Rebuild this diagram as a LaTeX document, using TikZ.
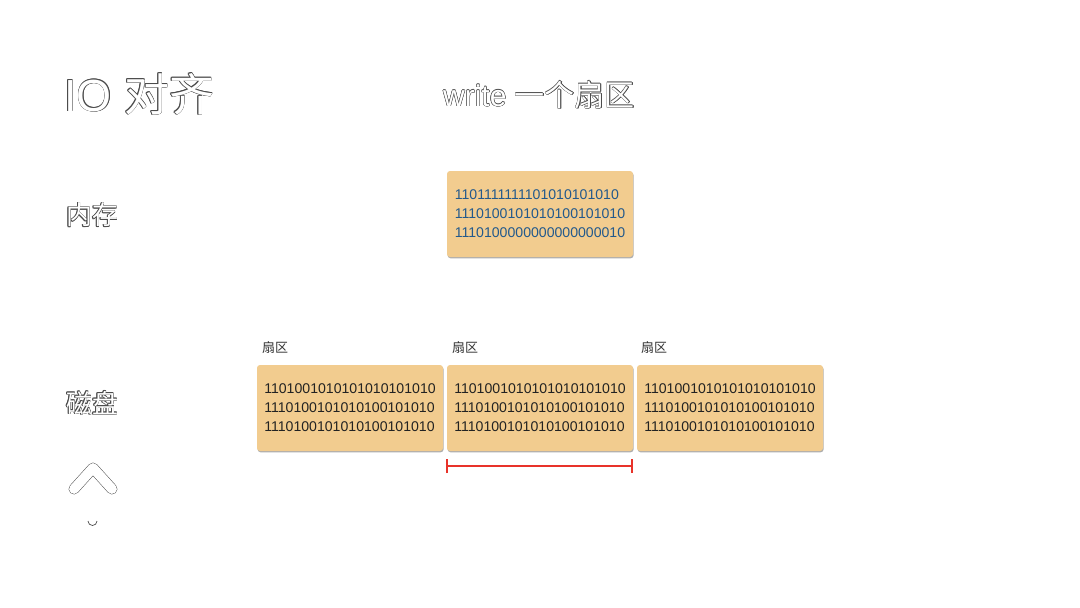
\documentclass[tikz,border=0pt]{standalone}
\usepackage{fontspec}
\setmainfont{Liberation Sans}
\newfontfamily\cjk{Noto Sans CJK SC}
\usetikzlibrary{shadows,arrows.meta}
\definecolor{boxfill}{HTML}{F2CC8F}
\definecolor{membits}{HTML}{22598C}
\definecolor{diskbits}{HTML}{222222}
\definecolor{bracketred}{HTML}{E8332A}
\newcommand\outlinetext[5]{% name, position, anchor, font, text
  \foreach \a in {0,45,...,315}{
    \node[anchor=#3, inner sep=0, text=black!70, font=#4, shift={(\a:0.45)}] at (#2) {#5};
  }
  \node[anchor=#3, inner sep=0, text=white, font=#4] (#1) at (#2) {#5};
}
\tikzset{
  bitbox/.style={draw=none, fill=boxfill, rounded corners=3pt, minimum width=186pt,
    minimum height=86pt, inner sep=0, align=left,
    font=\fontsize{14.1}{19}\selectfont,
    drop shadow={shadow xshift=0.6pt, shadow yshift=-1.3pt, fill=black!45, opacity=0.7}},
  membox/.style={bitbox, text=membits},
  diskbox/.style={bitbox, text=diskbits},
  sectorlabel/.style={anchor=west, inner sep=0, text=black!80, font=\cjk\fontsize{13}{13}\selectfont},
  bracket/.style={draw=bracketred, line width=1.8pt, {Bar[width=14pt,line width=2.2pt]}-{Bar[width=14pt,line width=2.2pt]}},
}
\begin{document}
\begin{tikzpicture}[x=1pt, y=-1pt]
\fill[white] (0,0) rectangle (1080,608);
\useasboundingbox (0,0) rectangle (1080,608);

% titles
\outlinetext{title}{64,94}{west}{\fontsize{45}{45}\selectfont}{IO {\cjk 对齐}}
\outlinetext{subtitle}{539,95}{center}{\fontsize{30}{30}\selectfont}{write {\cjk 一个扇区}}
\outlinetext{memlabel}{66,215}{west}{\cjk\fontsize{26}{26}\selectfont}{内存}
\outlinetext{disklabel}{66,403}{west}{\cjk\fontsize{26}{26}\selectfont}{磁盘}

% memory block
\node[membox] (mem) at (540,214) {1101111111101010101010\\1110100101010100101010\\1110100000000000000010};

% disk sectors
\node[sectorlabel] (s1) at (262,348) {扇区};
\node[sectorlabel] (s2) at (452,348) {扇区};
\node[sectorlabel] (s3) at (641,348) {扇区};
\node[diskbox] (d1) at (350,408) {1101001010101010101010\\1110100101010100101010\\1110100101010100101010};
\node[diskbox] (d2) at (540,408) {1101001010101010101010\\1110100101010100101010\\1110100101010100101010};
\node[diskbox] (d3) at (730,408) {1101001010101010101010\\1110100101010100101010\\1110100101010100101010};

% red bracket under the middle sector
\coordinate (bl) at (446,466);
\coordinate (br) at (633,466);
\draw[bracket] (bl) -- (br);

% chevron and small arc
\coordinate (cl) at (74,489);
\coordinate (ct) at (93,468);
\coordinate (cr) at (112,489);
\draw[black!70, line width=10.8pt, line cap=round, line join=round] (cl) -- (ct) -- (cr);
\draw[white, line width=9.8pt, line cap=round, line join=round] (cl) -- (ct) -- (cr);
\coordinate (ua) at (88,521);
\draw[black!70, line width=0.7pt] (ua) arc[start angle=180, end angle=0, radius=4.5];
\end{tikzpicture}
\end{document}
